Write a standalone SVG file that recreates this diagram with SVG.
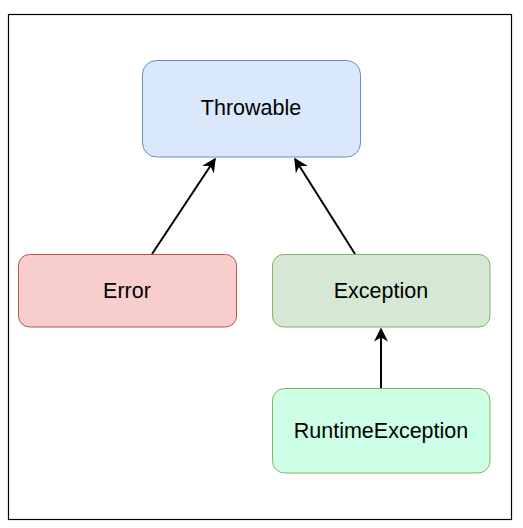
<svg xmlns="http://www.w3.org/2000/svg" width="523" height="528" viewBox="0 0 523 528">
<style>
.lbl{font-family:"Liberation Sans",Arial,sans-serif;font-size:21.5px;fill:#000;text-anchor:middle;dominant-baseline:central}
.edge{stroke:#000;stroke-width:2;fill:none}
</style>
<defs>
<marker id="ah" viewBox="0 0 10 10" refX="9" refY="5" markerWidth="7" markerHeight="7" orient="auto" markerUnits="strokeWidth">
<path d="M0,0 L10,5 L0,10 L3,5 z" fill="#000"/>
</marker>
</defs>
<rect x="0" y="0" width="523" height="528" fill="#fff"/>
<rect x="8.5" y="14.5" width="503" height="505" fill="#fff" stroke="#000" stroke-width="1.2"/>
<g id="connectors">
<line class="edge" x1="152" y1="254" x2="215" y2="159" marker-end="url(#ah)"/>
<line class="edge" x1="355" y1="254" x2="295" y2="159" marker-end="url(#ah)"/>
<line class="edge" x1="381" y1="388" x2="381" y2="329" marker-end="url(#ah)"/>
</g>
<g id="throwable">
<rect x="142.5" y="60.5" width="218" height="96.5" rx="14" fill="#dae8fc" stroke="#6c8ebf"/>
<text class="lbl" x="251" y="108">Throwable</text>
</g>
<g id="error">
<rect x="18.5" y="254.5" width="218" height="72.5" rx="11" fill="#f8cecc" stroke="#b85450"/>
<text class="lbl" x="127" y="291">Error</text>
</g>
<g id="exception">
<rect x="272.5" y="254.5" width="217.5" height="72.5" rx="11" fill="#d5e8d4" stroke="#82b366"/>
<text class="lbl" x="381" y="291">Exception</text>
</g>
<g id="runtimeexception">
<rect x="272.5" y="388.5" width="217.5" height="84.5" rx="12" fill="#ccffe6" stroke="#82b366"/>
<text class="lbl" x="381" y="431">RuntimeException</text>
</g>
</svg>
